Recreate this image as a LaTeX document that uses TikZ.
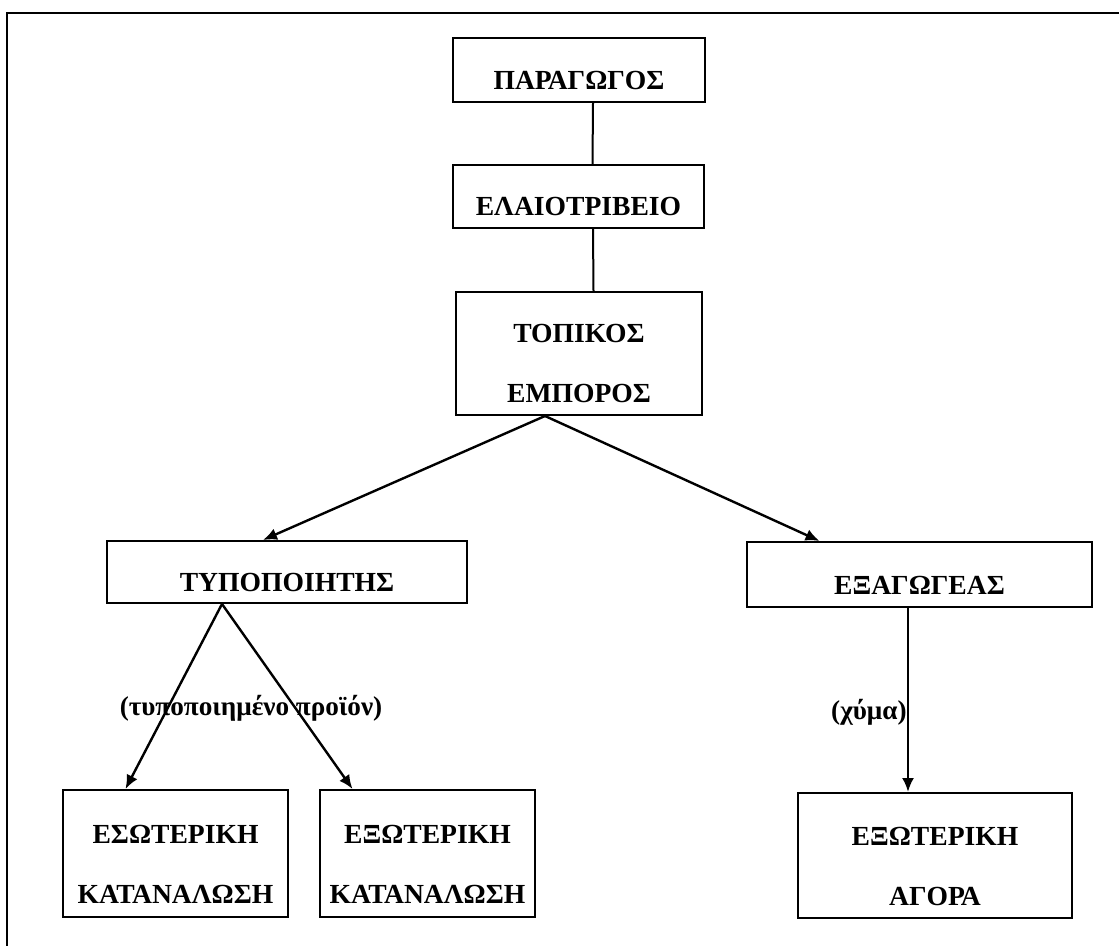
\documentclass[tikz,border=0pt]{standalone}
\usepackage{fontspec}
\setmainfont{Liberation Serif}
\usetikzlibrary{arrows.meta}

\begin{document}
\begin{tikzpicture}[x=0.5pt,y=0.5pt]
      \tikzstyle{every node}+=[inner sep=0pt]
      \tikzstyle{stage}=[draw, line width=1pt, align=center, text depth=0pt, text height=19.5pt, font=\bfseries\fontsize{13.8}{30}\selectfont]
      \tikzstyle{stagetwo}=[stage, text height=49.5pt]
      \tikzstyle{flow}=[line width=1.2pt, -{Latex[length=7pt,width=6pt]}]
      \tikzstyle{tag}=[font=\bfseries\fontsize{13.6}{16}\selectfont]
      \useasboundingbox (0,0) rectangle (1119,-946);
      \draw [line width=1pt] (7,-946) -- (7,-13) -- (1119,-13);
      \node [stage, minimum width=126pt, minimum height=32pt] (par) at (579,-70) {ΠΑΡΑΓΩΓΟΣ};
      \node [stage, minimum width=125.5pt, minimum height=31.5pt] (ela) at (578.5,-196.5) {ΕΛΑΙΟΤΡΙΒΕΙΟ};
      \node [stagetwo, minimum width=123pt, minimum height=61.5pt] (top) at (579,-353.5) {ΤΟΠΙΚΟΣ\\ΕΜΠΟΡΟΣ};
      \node [stage, minimum width=180pt, minimum height=31pt] (typ) at (287,-572) {ΤΥΠΟΠΟΙΗΤΗΣ};
      \node [stage, minimum width=172.5pt, minimum height=32.5pt] (exa) at (919.5,-574.5) {ΕΞΑΓΩΓΕΑΣ};
      \node [stagetwo, minimum width=112.5pt, minimum height=63.5pt] (esk) at (175.5,-853.5) {ΕΣΩΤΕΡΙΚΗ\\ΚΑΤΑΝΑΛΩΣΗ};
      \node [stagetwo, minimum width=107.5pt, minimum height=63.5pt] (exk) at (427.5,-853.5) {ΕΞΩΤΕΡΙΚΗ\\ΚΑΤΑΝΑΛΩΣΗ};
      \node [stagetwo, minimum width=137pt, minimum height=62.5pt] (ago) at (935,-855.5) {ΕΞΩΤΕΡΙΚΗ\\ΑΓΟΡΑ};
      \draw [line width=1pt] ([xshift=7pt]par.south) -- ([xshift=7pt]ela.north);
      \draw [line width=1pt] ([xshift=7.25pt]ela.south) -- ([xshift=7.25pt]top.north);
      \draw [flow] ([xshift=-17pt]top.south) -- ([xshift=-12pt]typ.north);
      \draw [flow] ([xshift=-17pt]top.south) -- ([xshift=-50pt]exa.north);
      \draw [flow] ([xshift=-32.5pt]typ.south) -- ([xshift=-25pt]esk.north);
      \draw [flow] ([xshift=-32.5pt]typ.south) -- ([xshift=-37.5pt]exk.north);
      \draw [flow] ([xshift=-5.75pt]exa.south) -- ([xshift=-5.75pt]exa.south |- ago.north);
      \node [tag] (typlabel) at (251,-708) {(τυποποιημένο προϊόν)};
      \node [tag, anchor=east] (exalabel) at (907,-712) {(χύμα)};
\end{tikzpicture}
\end{document}
